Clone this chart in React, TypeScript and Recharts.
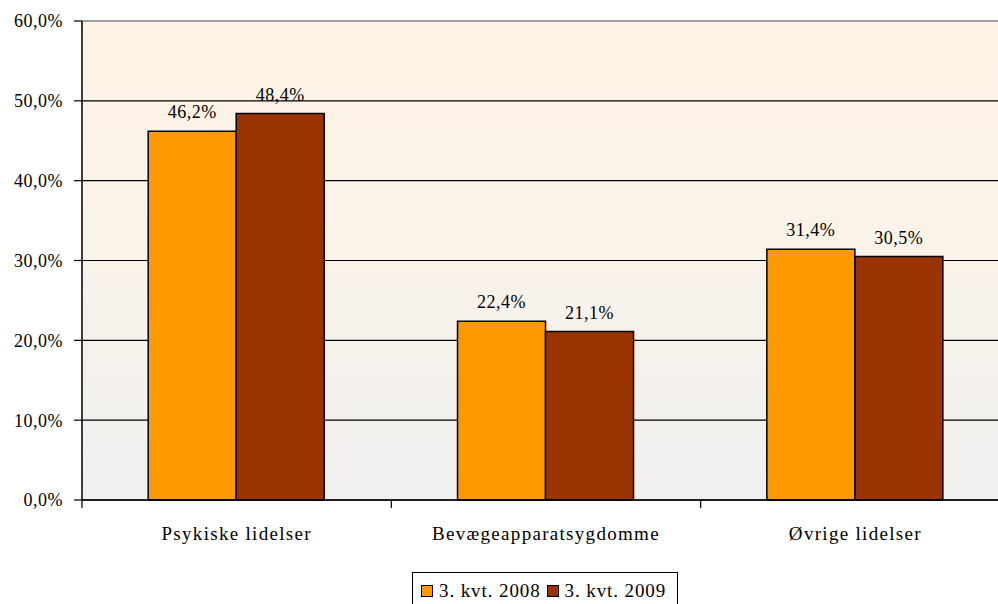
import React from "react";
import {
  Bar,
  BarChart,
  CartesianGrid,
  LabelList,
  ReferenceLine,
  XAxis,
  YAxis,
} from "recharts";

const CATEGORIES = ["Psykiske lidelser", "Bevægeapparatsygdomme", "Øvrige lidelser"];
const Q3_2008 = [46.2, 22.4, 31.4];
const Q3_2009 = [48.4, 21.1, 30.5];
const Y_TICKS = [0, 10, 20, 30, 40, 50, 60];
const SERIES = [
  { key: "q2008", name: "3. kvt. 2008", fill: "#ff9900" },
  { key: "q2009", name: "3. kvt. 2009", fill: "#993300" },
];

const data = CATEGORIES.map((name, i) => ({
  name,
  q2008: Q3_2008[i],
  q2009: Q3_2009[i],
}));

const FONT = '"Liberation Serif", "DejaVu Serif", "Times New Roman", serif';
const CHART_W = 1010;
const CHART_H = 604;
const AXIS_W = 82;
const BAND_W = (CHART_W - AXIS_W) / CATEGORIES.length;

const pct = (v: number) => `${v.toFixed(1).replace(".", ",")}%`;

function CategoryTick(props: any) {
  const { x, y, payload, index } = props;
  return (
    <g>
      <line x1={x - BAND_W / 2} x2={x - BAND_W / 2} y1={y - 8} y2={y} stroke="#000" strokeWidth={1.2} />
      {index === CATEGORIES.length - 1 && (
        <line x1={x + BAND_W / 2} x2={x + BAND_W / 2} y1={y - 8} y2={y} stroke="#000" strokeWidth={1.2} />
      )}
      <text
        x={x}
        y={y + 32}
        textAnchor="middle"
        style={{ fontFamily: FONT, fontSize: 19, letterSpacing: 1.3 }}
        fill="#000"
      >
        {payload.value}
      </text>
    </g>
  );
}

export default function App() {
  return (
    <div
      style={{
        position: "absolute",
        left: 0,
        top: 0,
        width: 998,
        height: 604,
        overflow: "hidden",
        background: "#fff",
        fontFamily: FONT,
      }}
    >
      <BarChart
        width={CHART_W}
        height={CHART_H}
        data={data}
        margin={{ top: 21, right: 0, bottom: 44, left: 0 }}
        barCategoryGap="21.4%"
        barGap={0}
      >
        <defs>
          <linearGradient id="plot-bg" x1="0" y1="0" x2="0" y2="1">
            <stop offset="0%" stopColor="#fdf3e5" />
            <stop offset="35%" stopColor="#fbf3e7" />
            <stop offset="100%" stopColor="#f0f0f0" />
          </linearGradient>
        </defs>
        <CartesianGrid
          vertical={false}
          stroke="#000"
          strokeWidth={1.2}
          fill="url(#plot-bg)"
          fillOpacity={1}
        />
        <ReferenceLine y={60} stroke="#a0a0a0" strokeWidth={2} />
        <XAxis
          dataKey="name"
          height={60}
          axisLine={{ stroke: "#000", strokeWidth: 1.5 }}
          tickLine={false}
          tick={<CategoryTick />}
          interval={0}
        />
        <YAxis
          width={AXIS_W}
          domain={[0, 60]}
          ticks={Y_TICKS}
          tickFormatter={pct}
          axisLine={{ stroke: "#000", strokeWidth: 1.5 }}
          tickLine={{ stroke: "#000", strokeWidth: 1.2 }}
          tickSize={8}
          tick={{ fontFamily: FONT, fontSize: 18, fill: "#000", letterSpacing: 0.5 }}
          tickMargin={11}
        />
        {SERIES.map((s) => (
          <Bar
            key={s.key}
            dataKey={s.key}
            name={s.name}
            fill={s.fill}
            stroke="#000"
            strokeWidth={1.5}
            isAnimationActive={false}
          >
            <LabelList
              dataKey={s.key}
              position="top"
              offset={13}
              formatter={(v: any) => pct(Number(v))}
              style={{ fontFamily: FONT, fontSize: 18, fill: "#000", letterSpacing: 0.5 }}
            />
          </Bar>
        ))}
      </BarChart>
      <div
        style={{
          position: "absolute",
          left: 412,
          top: 572,
          width: 266,
          height: 40,
          border: "1px solid #000",
          background: "#fff",
          display: "flex",
          alignItems: "flex-start",
          paddingTop: 7,
          paddingLeft: 8,
          boxSizing: "border-box",
          fontSize: 19,
          letterSpacing: 0.9,
          color: "#000",
          whiteSpace: "nowrap",
        }}
      >
        {SERIES.map((s) => (
          <span key={s.key} style={{ display: "flex", alignItems: "center", marginRight: 6 }}>
            <span
              style={{
                display: "inline-block",
                width: 10,
                height: 10,
                background: s.fill,
                border: "1.5px solid #000",
                marginRight: 6,
              }}
            />
            {s.name}
          </span>
        ))}
      </div>
    </div>
  );
}
